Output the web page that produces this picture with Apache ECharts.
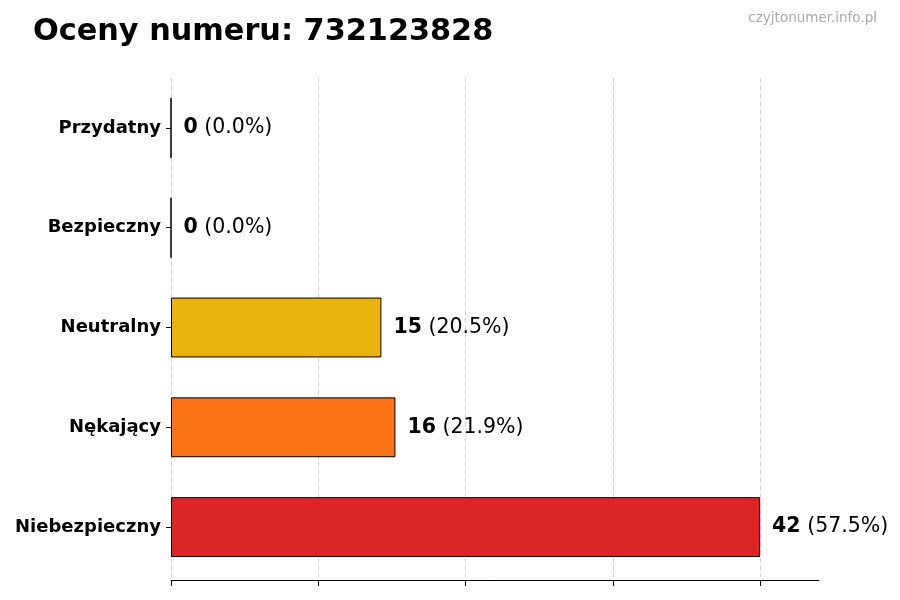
<!DOCTYPE html>
<html lang="pl">
<head>
    <meta charset="UTF-8">
    <title>Oceny numeru</title>
    <script src="https://cdn.jsdelivr.net/npm/echarts@6/dist/echarts.min.js"></script>
    <style>
        html, body { margin: 0; padding: 0; background: #fff; }
        #main { width: 900px; height: 600px; }
    </style>
</head>
<body>
<div id="main"></div>
<script>
    // dane z wykresu
    var categories = ['Przydatny', 'Bezpieczny', 'Neutralny', 'Nękający', 'Niebezpieczny'];
    var counts = [0, 0, 15, 16, 42];
    var barColors = ['#2ca02c', '#1f77b4', '#E8B40C', '#F97316', '#DC2626'];
    var axisMax = 46.2;
    var tickValues = [0, 10.5, 21, 31.5, 42];

    var total = counts.reduce(function (a, b) { return a + b; }, 0);

    var chart = echarts.init(document.getElementById('main'));

    var option = {
        backgroundColor: '#fff',
        animation: false,
        title: [{
            text: 'Oceny numeru: 732123828',
            left: 28,
            top: 12,
            textStyle: {fontFamily: 'DejaVu Sans', fontSize: 30.3, fontWeight: 'bold', color: '#000'}
        }, {
            text: 'czyjtonumer.info.pl',
            right: 18,
            top: 6,
            textStyle: {fontFamily: 'DejaVu Sans', fontSize: 13.5, fontWeight: 'normal', color: '#aaa'}
        }],
        grid: {left: 171, right: 81, top: 78, bottom: 23},
        xAxis: {
            type: 'value',
            min: 0,
            max: axisMax,
            offset: 3,
            axisLine: {show: true, lineStyle: {color: '#000', width: 1}},
            axisTick: {show: true, length: 6, customValues: tickValues, lineStyle: {color: '#000'}},
            axisLabel: {show: false, customValues: tickValues},
            splitLine: {show: true, lineStyle: {color: '#d4d4d4', type: [5, 3], width: 1}}
        },
        yAxis: {
            type: 'category',
            inverse: true,
            data: categories,
            axisLine: {show: false},
            axisTick: {show: true, alignWithLabel: true, length: 5, lineStyle: {color: '#000'}},
            axisLabel: {
                margin: 10,
                padding: [3, 0, 0, 0],
                fontFamily: 'DejaVu Sans',
                fontSize: 18,
                fontWeight: 'bold',
                color: '#000'
            }
        },
        series: [{
            type: 'bar',
            barWidth: '60%',
            data: counts.map(function (v, i) {
                return {value: v, itemStyle: {color: barColors[i]}};
            }),
            itemStyle: {borderColor: '#000', borderWidth: 1},
            label: {
                show: true,
                position: 'right',
                distance: 12,
                formatter: function (p) {
                    var pct = (p.value / total * 100).toFixed(1);
                    return '{b|' + p.value + '}{n| (' + pct + '%)}';
                },
                rich: {
                    b: {fontFamily: 'DejaVu Sans', fontSize: 20.5, fontWeight: 'bold', color: '#000'},
                    n: {fontFamily: 'DejaVu Sans', fontSize: 20.5, color: '#000'}
                }
            }
        }]
    };

    chart.setOption(option);
    window.addEventListener('resize', function () {
        chart.resize();
    });
</script>
</body>
</html>
